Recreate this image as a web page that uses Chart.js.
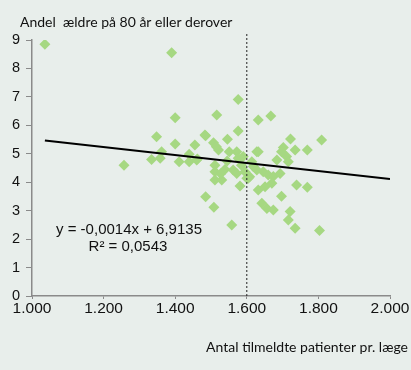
<!DOCTYPE html>
<html>
<head>
<meta charset="utf-8">
<script src="https://cdn.jsdelivr.net/npm/chart.js@4/dist/chart.umd.min.js"></script>
<style>
  html, body { margin: 0; padding: 0; background: #e8eeeb; }
  #wrap { width: 411px; height: 370px; position: relative; }
</style>
</head>
<body>
<div id="wrap"><canvas id="c"></canvas></div>
<script>
// patienter pr. læge (x) og andel ældre 80+ (y)
const patienter = [1036, 1390, 1257, 1348, 1400, 1400, 1455, 1485, 1362, 1334,
  1358, 1411, 1439, 1439, 1462, 1485, 1576, 1516, 1576, 1483,
  1546, 1507, 1521, 1515, 1551, 1572, 1576, 1628, 1460, 1511,
  1539, 1511, 1562, 1572, 1595, 1600, 1608, 1511, 1530, 1581,
  1508, 1558, 1585, 1632, 1667, 1722, 1809, 1632, 1702, 1697,
  1735, 1769, 1711, 1684, 1716, 1614, 1628, 1646, 1660, 1674,
  1693, 1604, 1670, 1632, 1651, 1739, 1769, 1697, 1642, 1656,
  1674, 1721, 1716, 1735, 1803, 1618, 1590, 1545, 1527];
const aeldre = [8.85, 8.55, 4.6, 5.6, 6.27, 5.34, 5.31, 5.63, 5.07, 4.8,
  4.84, 4.72, 4.98, 4.72, 4.82, 3.49, 6.91, 6.36, 5.8, 5.66,
  5.51, 5.39, 5.13, 5.25, 5.07, 5.07, 4.84, 5.07, 4.78, 4.6,
  4.45, 4.37, 4.43, 4.31, 4.37, 4.14, 4.19, 4.08, 4.08, 3.87,
  3.12, 2.5, 4.6, 6.19, 6.33, 5.52, 5.48, 5.07, 5.22, 5.07,
  5.13, 5.13, 4.9, 4.78, 4.72, 4.72, 4.43, 4.37, 4.25, 4.2,
  4.31, 4.14, 3.96, 3.73, 3.84, 3.9, 3.82, 3.51, 3.26, 3.08,
  3.02, 2.97, 2.67, 2.38, 2.3, 4.55, 4.9, 4.75, 4.3];

// trendlinje fra figurens ligning
const haeldning = -0.0014;
const skaering = 6.9135;
const trendX = [1036, 2000];
const lodretLinje = 1600;

const xTicks = [1000, 1200, 1400, 1600, 1800, 2000];
const yMax = 9;

const punkter = patienter.map((x, i) => ({ x: x, y: aeldre[i] }));
const trend = trendX.map(x => ({ x: x, y: haeldning * x + skaering }));

const tekster = {
  id: 'tekster',
  afterDraw(chart) {
    const ctx = chart.ctx;
    ctx.save();
    ctx.fillStyle = '#111';
    ctx.font = '14px Lato';
    ctx.textBaseline = 'middle';
    ctx.textAlign = 'left';
    ctx.fillText('Andel  ældre på 80 år eller derover', 20, 22);
    ctx.textAlign = 'right';
    ctx.fillText('Antal tilmeldte patienter pr. læge', 408, 347);
    ctx.font = '15px "Liberation Sans"';
    ctx.textAlign = 'center';
    ctx.fillText('y = -0,0014x + 6,9135', 129, 230);
    ctx.fillText('R² = 0,0543', 128, 247);
    ctx.restore();
  }
};

new Chart(document.getElementById('c'), {
  type: 'scatter',
  data: {
    datasets: [
      {
        data: trend,
        type: 'line',
        borderColor: '#000',
        borderWidth: 2,
        pointRadius: 0,
        fill: false,
        order: 0
      },
      {
        data: [{ x: lodretLinje, y: 0 }, { x: lodretLinje, y: 9.25 }],
        type: 'line',
        borderColor: '#222',
        borderWidth: 1,
        borderDash: [2, 2],
        pointRadius: 0,
        fill: false,
        clip: false,
        order: 1
      },
      {
        data: punkter,
        pointStyle: 'rectRot',
        pointRadius: 5.5,
        pointHoverRadius: 5.5,
        backgroundColor: '#a6d882',
        borderColor: '#a6d882',
        borderWidth: 0,
        order: 2
      }
    ]
  },
  options: {
    responsive: true,
    maintainAspectRatio: false,
    animation: false,
    layout: { padding: { left: 0, right: 21, top: 40, bottom: 0 } },
    plugins: { legend: { display: false }, tooltip: { enabled: false } },
    scales: {
      x: {
        type: 'linear',
        min: 1000,
        max: 2000,
        afterBuildTicks(scale) { scale.ticks = xTicks.map(v => ({ value: v })); },
        afterFit(scale) { scale.height = 74; },
        ticks: {
          color: '#111',
          font: { family: 'Liberation Sans', size: 15.5 },
          padding: 0,
          maxRotation: 0,
          callback: v => (v / 1000).toFixed(3)
        },
        grid: { drawOnChartArea: false, color: '#8a8a8a', tickLength: 3 },
        border: { color: '#8a8a8a', width: 1.5 }
      },
      y: {
        min: 0,
        max: yMax,
        afterFit(scale) { scale.width = 32; },
        ticks: {
          stepSize: 1,
          color: '#111',
          font: { family: 'Liberation Sans', size: 14.5 },
          padding: 6
        },
        grid: { drawOnChartArea: false, color: '#8a8a8a', tickLength: 6 },
        border: { color: '#8a8a8a', width: 1.5 }
      }
    }
  },
  plugins: [tekster]
});
</script>
</body>
</html>
